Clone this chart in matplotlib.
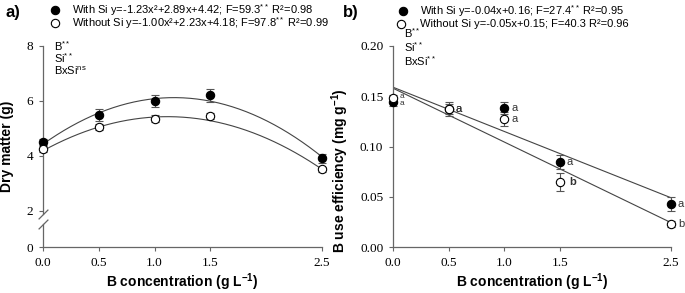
import numpy as np
import matplotlib
matplotlib.use('Agg')
import matplotlib.pyplot as plt

plt.rcParams['font.family'] = ['Liberation Sans', 'DejaVu Sans']
plt.rcParams['mathtext.fontset'] = 'custom'
plt.rcParams['mathtext.rm'] = 'Liberation Sans'
plt.rcParams['mathtext.bf'] = 'Liberation Sans:bold'
plt.rcParams['mathtext.it'] = 'Liberation Sans:italic'

# data
b_conc = [0.0, 0.5, 1.0, 1.5, 2.5]

dm_with = [4.5, 5.5, 6.0, 6.2, 3.9]
dm_with_err = [0.12, 0.22, 0.22, 0.25, 0.17]
dm_without = [4.25, 5.05, 5.35, 5.45, 3.5]
dm_without_err = [0.1, 0.1, 0.12, 0.12, 0.1]
dm_fit_with = [-1.23, 2.89, 4.42]
dm_fit_without = [-1.00, 2.23, 4.18]

bue_with = [0.144, 0.137, 0.138, 0.085, 0.043]
bue_with_err = [0.004, 0.007, 0.006, 0.007, 0.007]
bue_without = [0.148, 0.137, 0.127, 0.065, 0.023]
bue_without_err = [0.003, 0.005, 0.007, 0.009, 0.003]
bue_fit_with = [-0.044, 0.159]
bue_fit_without = [-0.0535, 0.158]
letters_with = ['a', 'a', 'a', 'a', 'a']
letters_without = ['a', 'a', 'a', 'b', 'b']

xticks = [0.0, 0.5, 1.0, 1.5, 2.5]

leg_a = ['With Si y=-1.23x²+2.89x+4.42; F=59.3$^{**}$ R²=0.98',
         'Without Si y=-1.00x²+2.23x+4.18; F=97.8$^{**}$ R²=0.99']
leg_b = ['With Si y=-0.04x+0.16; F=27.4$^{**}$ R²=0.95',
         'Without Si y=-0.05x+0.15; F=40.3 R²=0.96']
stats_a = ['B$^{**}$', 'Si$^{**}$', r'BxSi$^{\mathrm{ns}}$']
stats_b = ['B$^{**}$', 'Si$^{**}$', 'BxSi$^{**}$']

axcol = '#666666'
lcol = '#444444'

W, H = 685, 293
fig = plt.figure(figsize=(6.85, 2.93), dpi=100)
ax1 = fig.add_axes([43/W, 1-247/H, 279/W, 201/H])
ax2 = fig.add_axes([393/W, 1-247/H, 278/W, 201/H])


def style(ax):
    for s in ['top', 'right']:
        ax.spines[s].set_visible(False)
    for s in ['left', 'bottom']:
        ax.spines[s].set_color(axcol)
        ax.spines[s].set_linewidth(0.9)
    ax.tick_params(direction='out', length=3, width=0.8, color=axcol,
                   labelsize=9.5, pad=4)
    ax.set_xlim(0, 2.5)
    ax.set_xticks(xticks)
    ax.set_xticklabels(['%.1f' % t for t in xticks], family='Liberation Serif')
    ax.set_xlabel(r'B concentration (g L$^{\mathbf{-1}}$)', fontsize=10,
                  fontweight='bold', labelpad=2)


def points(ax, y, err, face):
    ax.errorbar(b_conc, y, yerr=err, fmt='none', ecolor='#555555',
                elinewidth=0.8, capsize=3, capthick=0.8, clip_on=False, zorder=3)
    ax.plot(b_conc, y, 'o', ms=6, mfc=face, mec='black', mew=0.8,
            clip_on=False, zorder=4)


# panel a
style(ax1)
ax1.spines['left'].set_visible(False)
ybot = 0.67
ax1.set_ylim(ybot, 8)
ax1.set_yticks([ybot, 2, 4, 6, 8])
ax1.set_yticklabels(['0', '2', '4', '6', '8'], family='Liberation Serif')
ax1.plot([0, 0], [ybot, 1.5], color=axcol, lw=0.9, clip_on=False)
ax1.plot([0, 0], [1.89, 8], color=axcol, lw=0.9, clip_on=False)
brk = dict(marker=[(-1, -1), (1, 1)], markersize=7, linestyle='none',
           color=axcol, mec=axcol, mew=0.9, clip_on=False)
ax1.plot([0, 0], [1.5, 1.89], **brk)

xs = np.linspace(0, 2.5, 200)
ax1.plot(xs, np.polyval(dm_fit_with, xs), color=lcol, lw=0.8)
ax1.plot(xs, np.polyval(dm_fit_without, xs), color=lcol, lw=0.8)
points(ax1, dm_with, dm_with_err, 'black')
points(ax1, dm_without, dm_without_err, 'white')
ax1.set_ylabel('Dry matter (g)', fontsize=10, fontweight='bold')
ax1.yaxis.set_label_coords(-0.105, 0.5)
for i, t in enumerate(stats_a):
    ax1.text(0.04, 1.0 - i * 0.062, t, transform=ax1.transAxes, fontsize=8,
             va='center', ha='left')

# panel b
style(ax2)
ax2.set_ylim(0, 0.2)
ax2.set_yticks([0, 0.05, 0.10, 0.15, 0.20])
ax2.set_yticklabels(['0.00', '0.05', '0.10', '0.15', '0.20'], family='Liberation Serif')
ax2.plot(xs, np.polyval(bue_fit_with, xs), color=lcol, lw=0.8)
ax2.plot(xs, np.polyval(bue_fit_without, xs), color=lcol, lw=0.8)
points(ax2, bue_with, bue_with_err, 'black')
points(ax2, bue_without, bue_without_err, 'white')
for i in range(len(b_conc)):
    fs = 6 if i == 0 else 8
    ax2.annotate(letters_with[i], (b_conc[i], bue_with[i]), xytext=(5, -1 if i == 0 else 0),
                 textcoords='offset points', fontsize=fs, va='center',
                 color='#333333', annotation_clip=False)
    ax2.annotate(letters_without[i], (b_conc[i], bue_without[i]),
                 xytext=(7 if i == 3 else 5, 1 if i == 0 else 0), textcoords='offset points',
                 fontsize=fs, va='center', color='#333333', annotation_clip=False,
                 fontweight='bold' if i == 3 else 'normal')
ax2.set_ylabel(r'B use efficiency (mg g$^{\mathbf{-1}}$)', fontsize=10,
               fontweight='bold')
ax2.yaxis.set_label_coords(-0.15, 0.38)
for i, t in enumerate(stats_b):
    ax2.text(0.04, 1.065 - i * 0.07, t, transform=ax2.transAxes, fontsize=8,
             va='center', ha='left')


# legends drawn by hand: marker + text per row
def legend(labels, mx, tx, rows):
    faces = ['black', 'white']
    for lab, face, r, m in zip(labels, faces, rows, mx):
        fig.lines.append(plt.Line2D([m / W], [1 - r / H], transform=fig.transFigure,
                                    marker='o', ms=6, mfc=face, mec='black', mew=0.8,
                                    ls='none'))
        fig.text(tx / W, 1 - r / H, lab, fontsize=8, va='center', ha='left')

legend(leg_a, [55, 55], 72, [10, 23])
legend(leg_b, [403, 401], 420, [11, 24])

fig.text(5/W, 1 - 12/H, 'a)', fontsize=12, fontweight='bold', va='center')
fig.text(343/W, 1 - 12/H, 'b)', fontsize=12, fontweight='bold', va='center')

fig.savefig('out.png', dpi=100)
